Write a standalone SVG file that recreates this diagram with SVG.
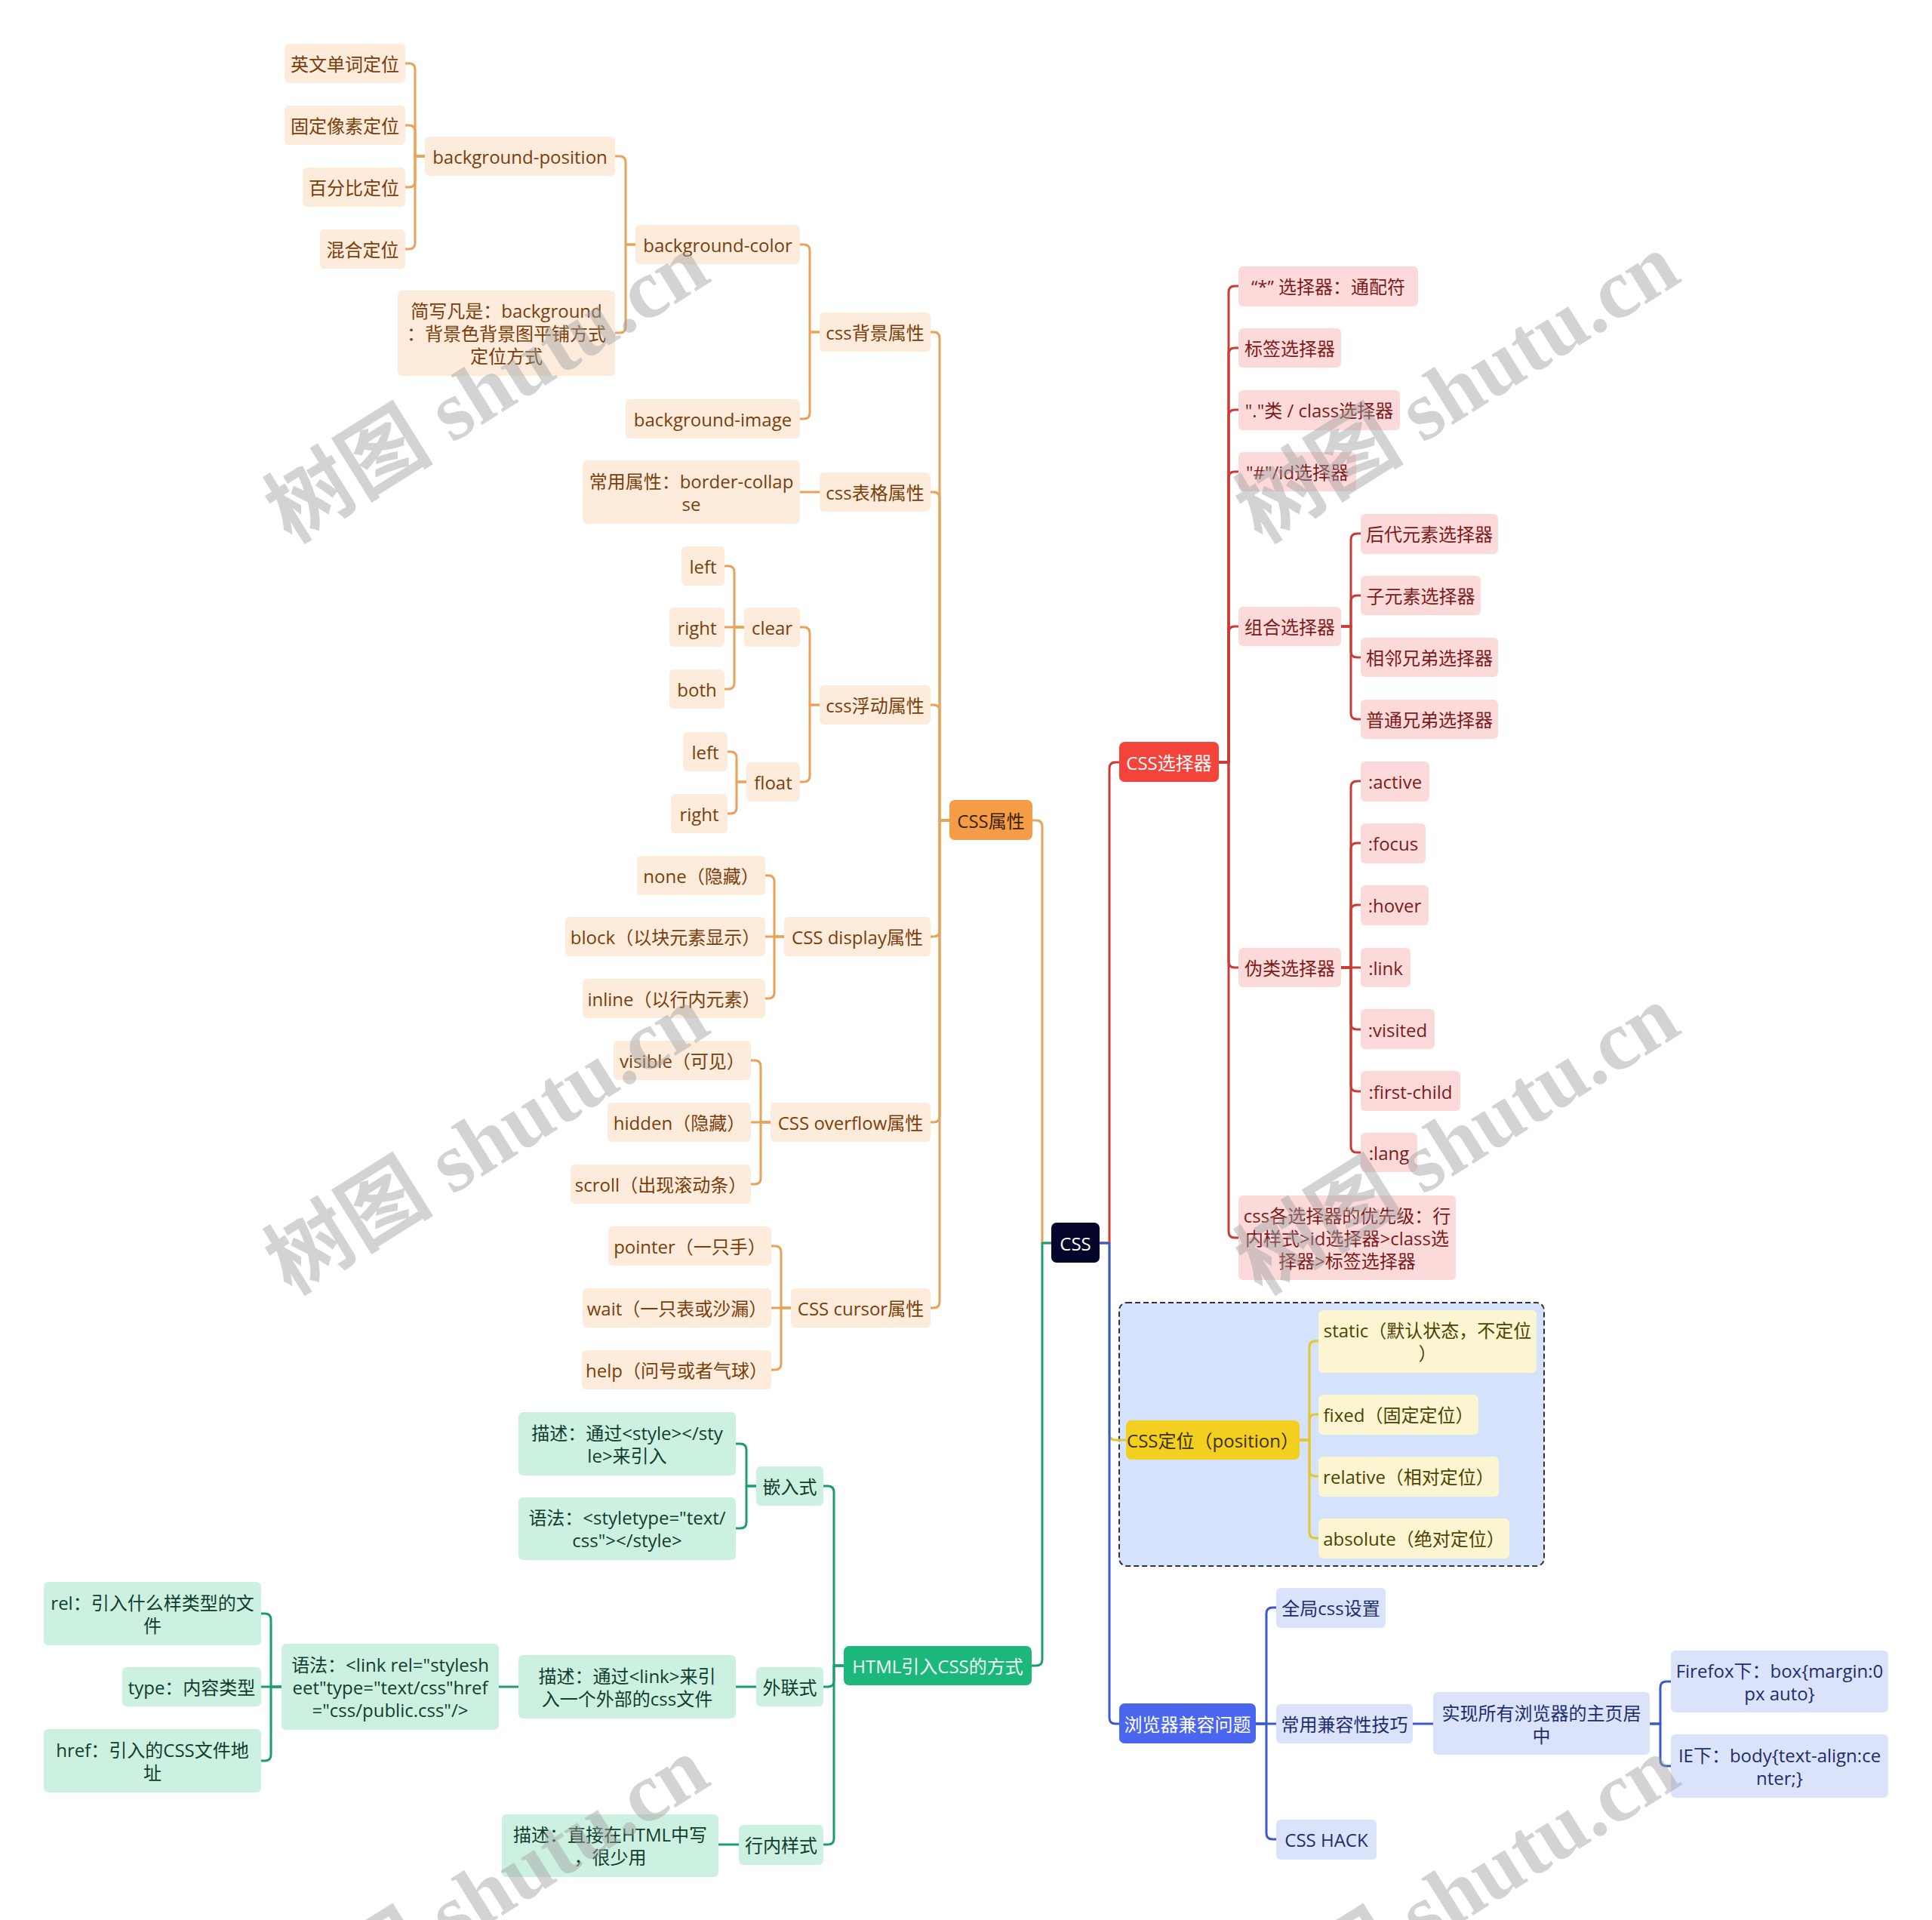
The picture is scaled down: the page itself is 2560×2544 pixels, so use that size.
<svg xmlns="http://www.w3.org/2000/svg" width="2560" height="2544" viewBox="0 0 2560 2544">
<style>
text{font-family:"Open Sans","Noto Sans CJK SC",sans-serif;font-size:24px;text-anchor:middle;dominant-baseline:central}
.o rect{fill:#fdebdc}.o text{fill:#7a3e0a}
.r rect{fill:#fcdada}.r text{fill:#7d1a1a}
.g rect{fill:#cdf1e1}.g text{fill:#103d2e}
.y rect{fill:#fcf5d1}.y text{fill:#4f4200}
.b rect{fill:#dbe3fa}.b text{fill:#1e2d6e}
.c path{fill:none;stroke-width:3;stroke-linecap:round;stroke-linejoin:round}
.lo path{stroke:#e9a257}.lr path{stroke:#c93d35}.lg path{stroke:#1a9e6e}.ly path{stroke:#e6c52e}.lb path{stroke:#3d59c9}
.wm{font-family:"Liberation Serif","Noto Sans CJK SC",serif;font-size:112px;font-weight:bold;fill:#a0a0a0;opacity:0.45}
</style>
<rect x="0" y="0" width="2560" height="2544" fill="#ffffff"/>
<g id="boundary-position"><rect x="1483" y="1726" width="563" height="349" rx="10" fill="#d4e3fb" stroke="#333" stroke-width="2" stroke-dasharray="7 4"/></g>
<g id="connectors" class="c">
<g class="lo">
<path d="M1393 1647 H1381 V1095 Q1381 1087 1373 1087 H1368"/>
<path d="M1258 1087 H1245 V448 Q1245 440 1237 440 H1233"/>
<path d="M1258 1087 H1245 V660 Q1245 652 1237 652 H1233"/>
<path d="M1258 1087 H1245 V942 Q1245 934 1237 934 H1233"/>
<path d="M1258 1087 H1245 V1233 Q1245 1241 1237 1241 H1233"/>
<path d="M1258 1087 H1245 V1479 Q1245 1487 1237 1487 H1233"/>
<path d="M1258 1087 H1245 V1725 Q1245 1733 1237 1733 H1233"/>
<path d="M1086 440 H1073 V332 Q1073 324 1065 324 H1060"/>
<path d="M1086 440 H1073 V547 Q1073 555 1065 555 H1060"/>
<path d="M842 324 H829 V215 Q829 207 821 207 H815"/>
<path d="M842 324 H829 V433 Q829 441 821 441 H815"/>
<path d="M563 207 H550 V92 Q550 84 542 84 H537"/>
<path d="M563 207 H550 V174 Q550 166 542 166 H537"/>
<path d="M563 207 H550 V240 Q550 248 542 248 H537"/>
<path d="M563 207 H550 V322 Q550 330 542 330 H537"/>
<path d="M1086 652 H1060"/>
<path d="M1086 934 H1073 V839 Q1073 831 1065 831 H1060"/>
<path d="M1086 934 H1073 V1028 Q1073 1036 1065 1036 H1060"/>
<path d="M986 831 H973 V758 Q973 750 965 750 H960"/>
<path d="M986 831 H960"/>
<path d="M986 831 H973 V905 Q973 913 965 913 H960"/>
<path d="M989 1036 H976 V1004 Q976 996 968 996 H964"/>
<path d="M989 1036 H976 V1070 Q976 1078 968 1078 H964"/>
<path d="M1039 1241 H1026 V1168 Q1026 1160 1018 1160 H1014"/>
<path d="M1039 1241 H1014"/>
<path d="M1039 1241 H1026 V1315 Q1026 1323 1018 1323 H1014"/>
<path d="M1021 1487 H1008 V1413 Q1008 1405 1000 1405 H995"/>
<path d="M1021 1487 H995"/>
<path d="M1021 1487 H1008 V1561 Q1008 1569 1000 1569 H995"/>
<path d="M1048 1733 H1035 V1659 Q1035 1651 1027 1651 H1022"/>
<path d="M1048 1733 H1022"/>
<path d="M1048 1733 H1035 V1807 Q1035 1815 1027 1815 H1022"/>
</g>
<g class="lg">
<path d="M1393 1647 H1381 V2199 Q1381 2207 1373 2207 H1367"/>
<path d="M1118 2207 H1105 V1977 Q1105 1969 1097 1969 H1091"/>
<path d="M1118 2207 H1105 V2227 Q1105 2235 1097 2235 H1091"/>
<path d="M1118 2207 H1105 V2436 Q1105 2444 1097 2444 H1091"/>
<path d="M1002 1969 H989 V1921 Q989 1913 981 1913 H975"/>
<path d="M1002 1969 H989 V2017 Q989 2025 981 2025 H975"/>
<path d="M1002 2235 H975"/>
<path d="M687 2235 H661"/>
<path d="M373 2235 H359 V2146 Q359 2138 351 2138 H346"/>
<path d="M373 2235 H346"/>
<path d="M373 2235 H359 V2325 Q359 2333 351 2333 H346"/>
<path d="M979 2444 H952"/>
</g>
<g class="lr">
<path d="M1457 1647 H1470 V1018 Q1470 1010 1478 1010 H1483"/>
<path d="M1615 1010 H1628 V387 Q1628 379 1636 379 H1641"/>
<path d="M1615 1010 H1628 V469 Q1628 461 1636 461 H1641"/>
<path d="M1615 1010 H1628 V551 Q1628 543 1636 543 H1641"/>
<path d="M1615 1010 H1628 V633 Q1628 625 1636 625 H1641"/>
<path d="M1615 1010 H1628 V838 Q1628 830 1636 830 H1641"/>
<path d="M1615 1010 H1628 V1274 Q1628 1282 1636 1282 H1641"/>
<path d="M1615 1010 H1628 V1632 Q1628 1640 1636 1640 H1641"/>
<path d="M1777 830 H1790 V715 Q1790 707 1798 707 H1803"/>
<path d="M1777 830 H1790 V797 Q1790 789 1798 789 H1803"/>
<path d="M1777 830 H1790 V863 Q1790 871 1798 871 H1803"/>
<path d="M1777 830 H1790 V945 Q1790 953 1798 953 H1803"/>
<path d="M1777 1282 H1790 V1043 Q1790 1035 1798 1035 H1803"/>
<path d="M1777 1282 H1790 V1125 Q1790 1117 1798 1117 H1803"/>
<path d="M1777 1282 H1790 V1207 Q1790 1199 1798 1199 H1803"/>
<path d="M1777 1282 H1803"/>
<path d="M1777 1282 H1790 V1356 Q1790 1364 1798 1364 H1803"/>
<path d="M1777 1282 H1790 V1438 Q1790 1446 1798 1446 H1803"/>
<path d="M1777 1282 H1790 V1519 Q1790 1527 1798 1527 H1803"/>
</g>
<g class="ly">
<path d="M1457 1647 H1470 V1900 Q1470 1908 1478 1908 H1492"/>
<path d="M1722 1908 H1735 V1785 Q1735 1777 1743 1777 H1747"/>
<path d="M1722 1908 H1735 V1882 Q1735 1874 1743 1874 H1747"/>
<path d="M1722 1908 H1735 V1948 Q1735 1956 1743 1956 H1747"/>
<path d="M1722 1908 H1735 V2030 Q1735 2038 1743 2038 H1747"/>
</g>
<g class="lb">
<path d="M1457 1647 H1470 V2276 Q1470 2284 1478 2284 H1483"/>
<path d="M1664 2284 H1678 V2138 Q1678 2130 1686 2130 H1691"/>
<path d="M1664 2284 H1691"/>
<path d="M1664 2284 H1678 V2429 Q1678 2437 1686 2437 H1691"/>
<path d="M1872 2284 H1899"/>
<path d="M2186 2284 H2200 V2236 Q2200 2228 2208 2228 H2214"/>
<path d="M2186 2284 H2200 V2332 Q2200 2340 2208 2340 H2214"/>
</g>
</g>
<g id="nodes">
<g id="n-root"><rect x="1393" y="1620" width="64" height="53" rx="7" fill="#05052b"/><text x="1425" y="1647" fill="#ffffff" font-size="26">CSS</text></g>
<g id="n-cssattr"><rect x="1258" y="1060" width="110" height="53" rx="7" fill="#f59c47"/><text x="1313" y="1087" fill="#3b2100">CSS属性</text></g>
<g id="n-html"><rect x="1118" y="2181" width="249" height="52" rx="7" fill="#1cb77b"/><text x="1242.5" y="2207" fill="#f0fff5">HTML引入CSS的方式</text></g>
<g id="n-selector"><rect x="1483" y="983" width="132" height="53" rx="7" fill="#f4433b"/><text x="1549" y="1010" fill="#ffffff">CSS选择器</text></g>
<g id="n-position"><rect x="1492" y="1882" width="230" height="52" rx="7" fill="#f3cf1f"/><text x="1607" y="1908" fill="#3b3000">CSS定位（position）</text></g>
<g id="n-compat"><rect x="1483" y="2257" width="181" height="53" rx="7" fill="#4a66ee"/><text x="1573.5" y="2284" fill="#ffffff">浏览器兼容问题</text></g>

<g id="n-bgattr" class="o"><rect x="1086" y="414" width="147" height="52" rx="6"/><text x="1159.5" y="440">css背景属性</text></g>
<g id="n-bgcolor" class="o"><rect x="842" y="298" width="218" height="52" rx="6"/><text x="951" y="324">background-color</text></g>
<g id="n-bgpos" class="o"><rect x="563" y="181" width="252" height="52" rx="6"/><text x="689" y="207">background-position</text></g>
<g id="n-en" class="o"><rect x="377" y="58" width="160" height="52" rx="6"/><text x="457" y="84">英文单词定位</text></g>
<g id="n-px" class="o"><rect x="377" y="140" width="160" height="52" rx="6"/><text x="457" y="166">固定像素定位</text></g>
<g id="n-pct" class="o"><rect x="401" y="222" width="136" height="52" rx="6"/><text x="469" y="248">百分比定位</text></g>
<g id="n-mix" class="o"><rect x="424" y="304" width="113" height="52" rx="6"/><text x="480.5" y="330">混合定位</text></g>
<g id="n-short" class="o"><rect x="527" y="385" width="288" height="113" rx="6"/><text x="671" y="441"><tspan x="671" dy="-30">简写凡是：background</tspan><tspan x="671" dy="30">：背景色背景图平铺方式</tspan><tspan x="671" dy="30">定位方式</tspan></text></g>
<g id="n-bgimg" class="o"><rect x="829" y="529" width="231" height="52" rx="6"/><text x="944.5" y="555">background-image</text></g>
<g id="n-table" class="o"><rect x="1086" y="626" width="147" height="52" rx="6"/><text x="1159.5" y="652">css表格属性</text></g>
<g id="n-collapse" class="o"><rect x="772" y="610" width="288" height="84" rx="6"/><text x="916" y="652"><tspan x="916" dy="-15">常用属性：border-collap</tspan><tspan x="916" dy="30">se</tspan></text></g>
<g id="n-floatattr" class="o"><rect x="1086" y="908" width="147" height="52" rx="6"/><text x="1159.5" y="934">css浮动属性</text></g>
<g id="n-clear" class="o"><rect x="986" y="805" width="74" height="52" rx="6"/><text x="1023" y="831">clear</text></g>
<g id="n-cleft" class="o"><rect x="903" y="724" width="57" height="52" rx="6"/><text x="931.5" y="750">left</text></g>
<g id="n-cright" class="o"><rect x="887" y="805" width="73" height="52" rx="6"/><text x="923.5" y="831">right</text></g>
<g id="n-cboth" class="o"><rect x="887" y="887" width="73" height="52" rx="6"/><text x="923.5" y="913">both</text></g>
<g id="n-float" class="o"><rect x="989" y="1010" width="71" height="52" rx="6"/><text x="1024.5" y="1036">float</text></g>
<g id="n-fleft" class="o"><rect x="905" y="970" width="59" height="52" rx="6"/><text x="934.5" y="996">left</text></g>
<g id="n-fright" class="o"><rect x="889" y="1052" width="75" height="52" rx="6"/><text x="926.5" y="1078">right</text></g>
<g id="n-display" class="o"><rect x="1039" y="1215" width="194" height="52" rx="6"/><text x="1136" y="1241">CSS display属性</text></g>
<g id="n-none" class="o"><rect x="844" y="1134" width="170" height="52" rx="6"/><text x="929" y="1160">none（隐藏）</text></g>
<g id="n-block" class="o"><rect x="749" y="1215" width="265" height="52" rx="6"/><text x="881.5" y="1241">block（以块元素显示）</text></g>
<g id="n-inline" class="o"><rect x="772" y="1297" width="242" height="52" rx="6"/><text x="893" y="1323">inline（以行内元素）</text></g>
<g id="n-overflow" class="o"><rect x="1021" y="1461" width="212" height="52" rx="6"/><text x="1127" y="1487">CSS overflow属性</text></g>
<g id="n-visible" class="o"><rect x="813" y="1379" width="182" height="52" rx="6"/><text x="904" y="1405">visible（可见）</text></g>
<g id="n-hidden" class="o"><rect x="805" y="1461" width="190" height="52" rx="6"/><text x="900" y="1487">hidden（隐藏）</text></g>
<g id="n-scroll" class="o"><rect x="756" y="1543" width="239" height="52" rx="6"/><text x="875.5" y="1569">scroll（出现滚动条）</text></g>
<g id="n-cursor" class="o"><rect x="1048" y="1707" width="185" height="52" rx="6"/><text x="1140.5" y="1733">CSS cursor属性</text></g>
<g id="n-pointer" class="o"><rect x="806" y="1625" width="216" height="52" rx="6"/><text x="914" y="1651">pointer（一只手）</text></g>
<g id="n-wait" class="o"><rect x="772" y="1707" width="250" height="52" rx="6"/><text x="897" y="1733">wait（一只表或沙漏）</text></g>
<g id="n-help" class="o"><rect x="771" y="1789" width="251" height="52" rx="6"/><text x="896.5" y="1815">help（问号或者气球）</text></g>

<g id="n-embed" class="g"><rect x="1002" y="1943" width="89" height="52" rx="6"/><text x="1046.5" y="1969">嵌入式</text></g>
<g id="n-embed-desc" class="g"><rect x="687" y="1871" width="288" height="84" rx="6"/><text x="831" y="1913"><tspan x="831" dy="-15">描述：通过&lt;style&gt;&lt;/sty</tspan><tspan x="831" dy="30">le&gt;来引入</tspan></text></g>
<g id="n-embed-syn" class="g"><rect x="687" y="1984" width="288" height="83" rx="6"/><text x="831" y="2025"><tspan x="831" dy="-15">语法：&lt;styletype="text/</tspan><tspan x="831" dy="30">css"&gt;&lt;/style&gt;</tspan></text></g>
<g id="n-link" class="g"><rect x="1002" y="2209" width="89" height="52" rx="6"/><text x="1046.5" y="2235">外联式</text></g>
<g id="n-link-desc" class="g"><rect x="687" y="2193" width="288" height="84" rx="6"/><text x="831" y="2235"><tspan x="831" dy="-15">描述：通过&lt;link&gt;来引</tspan><tspan x="831" dy="30">入一个外部的css文件</tspan></text></g>
<g id="n-link-syn" class="g"><rect x="373" y="2178" width="288" height="114" rx="6"/><text x="517" y="2235"><tspan x="517" dy="-30">语法：&lt;link rel="stylesh</tspan><tspan x="517" dy="30">eet"type="text/css"href</tspan><tspan x="517" dy="30">="css/public.css"/&gt;</tspan></text></g>
<g id="n-rel" class="g"><rect x="58" y="2096" width="288" height="84" rx="6"/><text x="202" y="2138"><tspan x="202" dy="-15">rel：引入什么样类型的文</tspan><tspan x="202" dy="30">件</tspan></text></g>
<g id="n-type" class="g"><rect x="162" y="2209" width="184" height="52" rx="6"/><text x="254" y="2235">type：内容类型</text></g>
<g id="n-href" class="g"><rect x="58" y="2291" width="288" height="84" rx="6"/><text x="202" y="2333"><tspan x="202" dy="-15">href：引入的CSS文件地</tspan><tspan x="202" dy="30">址</tspan></text></g>
<g id="n-inlinestyle" class="g"><rect x="979" y="2418" width="112" height="53" rx="6"/><text x="1035" y="2444">行内样式</text></g>
<g id="n-inline-desc" class="g"><rect x="665" y="2404" width="287" height="83" rx="6"/><text x="808.5" y="2445"><tspan x="808.5" dy="-15">描述：直接在HTML中写</tspan><tspan x="808.5" dy="30">，很少用</tspan></text></g>

<g id="n-star" class="r"><rect x="1641" y="353" width="238" height="53" rx="6"/><text x="1760" y="379">“*” 选择器：通配符</text></g>
<g id="n-tag" class="r"><rect x="1641" y="435" width="136" height="52" rx="6"/><text x="1709" y="461">标签选择器</text></g>
<g id="n-class" class="r"><rect x="1641" y="517" width="214" height="53" rx="6"/><text x="1748" y="543">"."类 / class选择器</text></g>
<g id="n-id" class="r"><rect x="1641" y="599" width="156" height="52" rx="6"/><text x="1719" y="625">"#"/id选择器</text></g>
<g id="n-combo" class="r"><rect x="1641" y="804" width="136" height="52" rx="6"/><text x="1709" y="830">组合选择器</text></g>
<g id="n-desc" class="r"><rect x="1803" y="681" width="182" height="53" rx="6"/><text x="1894" y="707">后代元素选择器</text></g>
<g id="n-child" class="r"><rect x="1803" y="763" width="159" height="52" rx="6"/><text x="1882.5" y="789">子元素选择器</text></g>
<g id="n-adj" class="r"><rect x="1803" y="845" width="182" height="52" rx="6"/><text x="1894" y="871">相邻兄弟选择器</text></g>
<g id="n-gen" class="r"><rect x="1803" y="927" width="182" height="52" rx="6"/><text x="1894" y="953">普通兄弟选择器</text></g>
<g id="n-pseudo" class="r"><rect x="1641" y="1256" width="136" height="52" rx="6"/><text x="1709" y="1282">伪类选择器</text></g>
<g id="n-active" class="r"><rect x="1803" y="1009" width="91" height="53" rx="6"/><text x="1848.5" y="1035">:active</text></g>
<g id="n-focus" class="r"><rect x="1803" y="1091" width="86" height="53" rx="6"/><text x="1846" y="1117">:focus</text></g>
<g id="n-hover" class="r"><rect x="1803" y="1173" width="90" height="53" rx="6"/><text x="1848" y="1199">:hover</text></g>
<g id="n-linkp" class="r"><rect x="1803" y="1256" width="66" height="52" rx="6"/><text x="1836" y="1282">:link</text></g>
<g id="n-visited" class="r"><rect x="1803" y="1337" width="98" height="53" rx="6"/><text x="1852" y="1364">:visited</text></g>
<g id="n-first" class="r"><rect x="1803" y="1419" width="132" height="53" rx="6"/><text x="1869" y="1446">:first-child</text></g>
<g id="n-lang" class="r"><rect x="1803" y="1501" width="75" height="52" rx="6"/><text x="1840.5" y="1527">:lang</text></g>
<g id="n-priority" class="r"><rect x="1641" y="1584" width="288" height="112" rx="6"/><text x="1785" y="1640"><tspan x="1785" dy="-30">css各选择器的优先级：行</tspan><tspan x="1785" dy="30">内样式&gt;id选择器&gt;class选</tspan><tspan x="1785" dy="30">择器&gt;标签选择器</tspan></text></g>

<g id="n-static" class="y"><rect x="1747" y="1736" width="289" height="83" rx="6"/><text x="1891.5" y="1777"><tspan x="1891.5" dy="-15">static（默认状态，不定位</tspan><tspan x="1891.5" dy="30">）</tspan></text></g>
<g id="n-fixed" class="y"><rect x="1747" y="1848" width="212" height="53" rx="6"/><text x="1853" y="1874">fixed（固定定位）</text></g>
<g id="n-relative" class="y"><rect x="1747" y="1930" width="239" height="53" rx="6"/><text x="1866.5" y="1956">relative（相对定位）</text></g>
<g id="n-absolute" class="y"><rect x="1747" y="2012" width="253" height="53" rx="6"/><text x="1873.5" y="2038">absolute（绝对定位）</text></g>

<g id="n-global" class="b"><rect x="1691" y="2104" width="145" height="53" rx="6"/><text x="1763.5" y="2130">全局css设置</text></g>
<g id="n-tips" class="b"><rect x="1691" y="2258" width="181" height="52" rx="6"/><text x="1781.5" y="2284">常用兼容性技巧</text></g>
<g id="n-hack" class="b"><rect x="1691" y="2411" width="133" height="53" rx="6"/><text x="1757.5" y="2437">CSS HACK</text></g>
<g id="n-center" class="b"><rect x="1899" y="2242" width="287" height="83" rx="6"/><text x="2042.5" y="2284"><tspan x="2042.5" dy="-15">实现所有浏览器的主页居</tspan><tspan x="2042.5" dy="30">中</tspan></text></g>
<g id="n-firefox" class="b"><rect x="2214" y="2187" width="288" height="82" rx="6"/><text x="2358" y="2228"><tspan x="2358" dy="-15">Firefox下：box{margin:0</tspan><tspan x="2358" dy="30">px auto}</tspan></text></g>
<g id="n-ie" class="b"><rect x="2214" y="2298" width="288" height="84" rx="6"/><text x="2358" y="2340"><tspan x="2358" dy="-15">IE下：body{text-align:ce</tspan><tspan x="2358" dy="30">nter;}</tspan></text></g>
</g>
<g id="watermarks">
<text class="wm" x="645" y="514" transform="rotate(-32 645 514)">树图 shutu.cn</text>
<text class="wm" x="1931" y="514" transform="rotate(-32 1931 514)">树图 shutu.cn</text>
<text class="wm" x="645" y="1510" transform="rotate(-32 645 1510)">树图 shutu.cn</text>
<text class="wm" x="1931" y="1510" transform="rotate(-32 1931 1510)">树图 shutu.cn</text>
<text class="wm" x="645" y="2506" transform="rotate(-32 645 2506)">树图 shutu.cn</text>
<text class="wm" x="1931" y="2506" transform="rotate(-32 1931 2506)">树图 shutu.cn</text>
</g>
</svg>
